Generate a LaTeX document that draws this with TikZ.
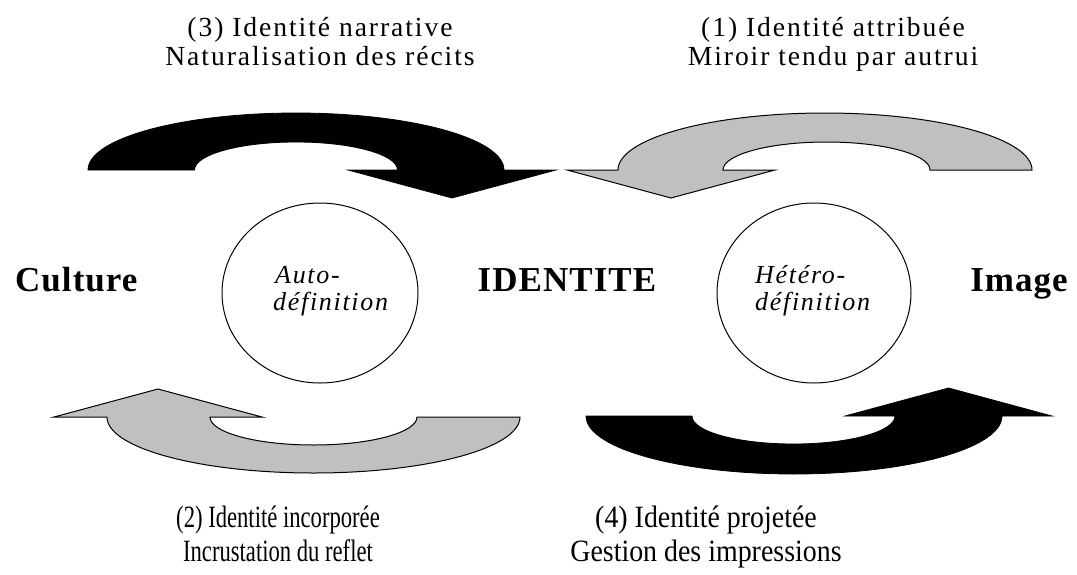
\documentclass[tikz,border=0pt]{standalone}
\usepackage{fontspec}
\setmainfont{Liberation Serif}
\newfontfamily\topfont[LetterSpace=7.0]{Liberation Serif}
\newfontfamily\botleftfont[FakeStretch=0.73]{Liberation Serif}
\newfontfamily\botrightfont[FakeStretch=0.9]{Liberation Serif}
\newfontfamily\boldfont[LetterSpace=3.0]{Liberation Serif}
\newfontfamily\itfont[LetterSpace=6.5]{Liberation Serif}
\definecolor{silver}{HTML}{C0C0C0}
\tikzset{
  darkarrow/.style={fill=black, draw=black, line width=0.8pt, line join=miter},
  greyarrow/.style={fill=silver, draw=black, line width=1pt, line join=miter},
  ring/.style={draw=black, line width=1pt, ellipse, inner sep=0pt},
  toplabel/.style={anchor=base, inner sep=0pt, font=\topfont\fontsize{27.6}{29}\selectfont},
  botleft/.style={anchor=base, inner sep=0pt, font=\botleftfont\fontsize{31}{33}\selectfont},
  botright/.style={anchor=base, inner sep=0pt, font=\botrightfont\fontsize{31}{33}\selectfont},
  biglabel/.style={inner sep=0pt, font=\boldfont\bfseries\fontsize{35}{38}\selectfont},
  inlabel/.style={anchor=base west, inner sep=0pt, font=\itfont\itshape\fontsize{26}{28}\selectfont},
}
\usetikzlibrary{shapes.geometric}
\begin{document}
\begin{tikzpicture}[x=1pt, y=1pt]
\useasboundingbox (0,0) rectangle (1077,-574);

% (3) top-left black arrow
\draw[darkarrow] (88,-170) arc[start angle=180, end angle=0, x radius=208, y radius=57]
  -- (556,-170) -- (452,-198) -- (348,-170) -- (397.5,-170)
  arc[start angle=0, end angle=180, x radius=101.5, y radius=28] -- cycle;

% (1) top-right grey arrow
\draw[greyarrow] (1032,-170) arc[start angle=0, end angle=180, x radius=207, y radius=57]
  -- (567,-170) -- (671,-198) -- (775,-170) -- (723,-170)
  arc[start angle=180, end angle=0, x radius=103.5, y radius=28] -- cycle;

% (2) bottom-left grey arrow
\draw[greyarrow] (520,-417) arc[start angle=0, end angle=-180, x radius=206.5, y radius=56]
  -- (54,-417) -- (158,-389) -- (262,-417) -- (210,-417)
  arc[start angle=-180, end angle=0, x radius=103.5, y radius=28] -- cycle;

% (4) bottom-right black arrow
\draw[darkarrow] (586,-416) arc[start angle=-180, end angle=0, x radius=208, y radius=58]
  -- (1052,-416) -- (948.5,-388) -- (845,-416) -- (895,-416)
  arc[start angle=0, end angle=-180, x radius=101.5, y radius=28] -- cycle;

% circles
\node[ring, minimum width=196pt, minimum height=180pt] (auto) at (320,-293) {};
\node[ring, minimum width=194pt, minimum height=180pt] (hetero) at (814,-293) {};
\node[inlabel] (autoA) at (275,-283) {Auto-};
\node[inlabel] (autoB) at (273,-310) {définition};
\node[inlabel] (hetA) at (755,-283) {Hétéro-};
\node[inlabel] (hetB) at (755,-310) {définition};

% big labels
\node[biglabel, anchor=base west] (culture) at (15,-291) {Culture};
\node[biglabel, anchor=base] (identite) at (567,-291) {IDENTITE};
\node[biglabel, anchor=base east] (image) at (1068,-291) {Image};

% top labels
\node[toplabel] (t3a) at (320,-36) {(3) Identité narrative};
\node[toplabel] (t3b) at (320,-65) {Naturalisation des récits};
\node[toplabel] (t1a) at (833,-36) {(1) Identité attribuée};
\node[toplabel] (t1b) at (833,-65) {Miroir tendu par autrui};

% bottom labels
\node[botleft] (b2a) at (278,-527) {(2) Identité incorporée};
\node[botleft] (b2b) at (278,-561) {Incrustation du reflet};
\node[botright] (b4a) at (706,-527) {(4) Identité projetée};
\node[botright] (b4b) at (706,-561) {Gestion des impressions};
\end{tikzpicture}
\end{document}
